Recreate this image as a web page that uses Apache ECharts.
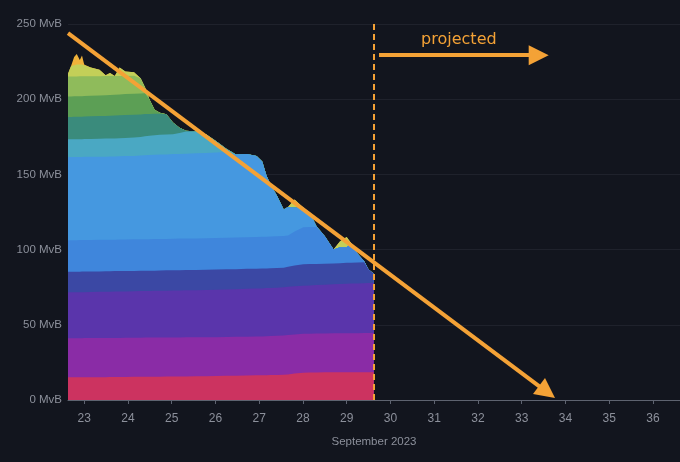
<!DOCTYPE html>
<html>
<head>
<meta charset="utf-8">
<script src="https://cdn.jsdelivr.net/npm/echarts@6/dist/echarts.min.js"></script>
<style>
html,body{margin:0;padding:0;background:#12151e;}
#chart{width:680px;height:462px;}
</style>
</head>
<body>
<div id="chart"></div>
<script>
// ---- data ----
const days = [22.63,22.70,22.77,22.83,22.90,22.95,23.00,23.15,23.35,23.49,
  23.59,23.70,23.81,23.94,24.14,24.29,24.39,24.49,24.61,24.73,
  24.88,25.03,25.18,25.33,25.56,25.79,26.02,26.25,26.47,26.72,
  26.94,27.07,27.17,27.26,27.41,27.56,27.66,27.81,28.01,28.16,
  28.31,28.50,28.70,28.85,29.00,29.10,29.25,29.40,29.50,29.62];

// total mempool size (top edge of the stack), MvB
const totalMvB = [217,222,228,230,226,229,223,221,219.5,216,
  217.5,215.5,221,218.5,218,214,208,200,193,191,
  190,184.5,181,179,178.5,176.5,172,167,163.3,163.5,
  162.2,158.5,149,143.3,135.6,126.7,128.4,133.3,127.8,124.4,
  115.6,108.9,100,105.6,108.4,104.4,97.3,92.2,86.7,84];

// cumulative upper boundary of each fee band (bottom band first), MvB
const bandTop1 = [15.1,15.1,15.1,15.1,15.1,15.1,15.1,15.2,15.2,15.2,15.3,15.3,15.3,15.3,15.4,15.4,15.4,15.5,15.5,15.5,15.6,15.6,15.7,15.7,15.8,15.8,16.0,16.1,16.2,16.3,16.4,16.5,16.5,16.6,16.7,16.8,17.0,17.6,18.2,18.3,18.3,18.4,18.4,18.4,18.4,18.5,18.5,18.5,18.5,18.5];
const bandTop2 = [41.1,41.1,41.1,41.1,41.1,41.1,41.2,41.2,41.2,41.3,41.3,41.3,41.3,41.4,41.4,41.4,41.5,41.5,41.5,41.5,41.6,41.6,41.6,41.7,41.7,41.7,41.8,41.9,42.0,42.1,42.2,42.3,42.4,42.5,42.7,42.9,43.2,43.6,44.0,44.1,44.2,44.2,44.3,44.3,44.4,44.4,44.4,44.5,44.5,44.5];
const bandTop3 = [71.6,71.6,71.6,71.6,71.7,71.7,71.7,71.8,71.9,72.0,72.0,72.1,72.2,72.2,72.3,72.4,72.4,72.5,72.6,72.6,72.7,72.8,72.8,72.9,73.0,73.1,73.3,73.5,73.7,73.9,74.1,74.2,74.4,74.5,74.7,75.0,75.3,75.6,76.0,76.2,76.4,76.7,76.9,77.1,77.3,77.4,77.5,77.7,77.8,77.8];
const bandTop4 = [85.3,85.3,85.3,85.3,85.3,85.4,85.4,85.5,85.5,85.6,85.6,85.7,85.7,85.8,85.8,85.9,85.9,86.0,86.0,86.1,86.2,86.3,86.3,86.4,86.5,86.6,86.7,86.9,87.0,87.2,87.3,87.4,87.5,87.6,87.8,88.0,88.6,89.5,90.3,90.4,90.5,90.6,90.8,91.0,91.2,91.3,91.5,91.6,91.7,91.8];
const bandTop5 = [106.2,106.2,106.2,106.2,106.3,106.3,106.3,106.4,106.5,106.5,106.6,106.6,106.7,106.7,106.8,106.8,106.9,106.9,107.0,107.0,107.1,107.2,107.3,107.3,107.4,107.5,107.7,107.9,108.0,108.2,108.3,108.5,108.6,108.7,108.9,109.1,109.4,112.0,114.9,115.0,115.0,115.1,115.1,101.5,101.5,115.3,115.3,115.4,115.5,115.5];
const bandTop6 = [161.5,161.5,161.5,161.6,161.6,161.6,161.7,161.7,161.8,161.8,161.9,161.9,162.0,162.2,162.3,162.5,162.7,162.9,163.0,163.2,163.3,163.5,163.6,163.8,164.0,164.3,164.6,164.9,165.0,165.2,165.3,165.4,165.5,165.5,165.5,165.5,165.5,128.0,165.5,165.5,165.5,165.5,165.5,101.5,101.5,165.5,165.5,165.5,165.5,165.5];
const bandTop7 = [173.3,173.3,173.3,173.4,173.4,173.4,173.5,173.6,173.7,173.8,173.8,173.9,174.0,174.2,174.5,174.9,175.3,175.7,176.0,176.3,176.5,176.7,177.5,178.5,179.5,179.5,179.5,179.5,179.5,179.5,179.5,179.5,179.5,179.5,179.5,179.5,179.5,128.0,179.5,179.5,179.5,179.5,179.5,101.5,101.5,179.5,179.5,179.5,179.5,179.5];
const bandTop8 = [188.2,188.2,188.3,188.3,188.4,188.4,188.5,188.6,188.8,188.9,189.0,189.1,189.3,189.5,189.7,189.9,190.1,190.2,190.3,190.4,190.5,190.6,190.7,190.8,190.8,190.8,190.8,190.8,190.8,190.8,190.8,190.8,190.8,190.8,190.8,190.8,190.8,128.0,190.8,190.8,190.8,190.8,190.8,101.5,101.5,190.8,190.8,190.8,190.8,190.8];
const bandTop9 = [201.8,201.8,201.9,201.9,202.0,202.0,202.1,202.3,202.5,202.6,202.8,203.0,203.2,203.4,203.6,203.8,204.0,204.0,204.0,204.0,204.0,204.0,204.0,204.0,204.0,204.0,204.0,204.0,204.0,204.0,204.0,204.0,204.0,204.0,204.0,204.0,204.0,128.0,204.0,204.0,204.0,204.0,204.0,101.5,101.5,204.0,204.0,204.0,204.0,204.0];
const bandTop10 = [215.1,215.1,215.1,215.1,215.2,215.2,215.2,215.3,215.3,215.4,215.4,215.4,215.5,215.5,215.6,215.6,215.6,215.6,215.6,215.6,215.6,215.6,215.6,215.6,215.6,215.6,215.6,215.6,215.6,215.6,215.6,215.6,215.6,215.6,215.6,215.6,215.6,128.0,215.6,215.6,215.6,215.6,215.6,101.5,101.5,215.6,215.6,215.6,215.6,215.6];
const bandTop11 = [240,222,222.5,223,223,223,222.5,240,240,240,240,240,240,240,240,240,240,240,240,240,240,240,240,240,240,240,240,240,240,240,240,240,240,240,240,240,240,240,240,240,240,240,240,240,240,240,240,240,240,240];

const xTickDays = [23,24,25,26,27,28,29,30,31,32,33,34,35,36];
const nowDay = 29.62;
const trendStart = [22.63, 243.9];
const trendEnd = [33.58, 5.3];
const projStart = [29.74, 229.3];
const projEnd = [33.39, 229.3];
const projLabel = 'projected';
const xAxisName = 'September 2023';

const bandColors = ['#cc3360','#8a2ca6','#5a35ab','#3b48a4','#3f86dc','#4598e0','#4aa8c3','#3a8b7c','#5c9f55','#8fbb5b','#c3cf58','#f0b23a'];

// ---- cumulative tops of each band (clipped to the total, kept monotone) ----
const bounds = [bandTop1,bandTop2,bandTop3,bandTop4,bandTop5,bandTop6,bandTop7,bandTop8,bandTop9,bandTop10,bandTop11];
const cumTops = bandColors.map(() => []);
for (let j = 0; j < days.length; j++) {
  let prev = 0;
  for (let k = 0; k < bounds.length; k++) {
    const c = Math.max(prev, Math.min(bounds[k][j], totalMvB[j]));
    cumTops[k].push([days[j], c]);
    prev = c;
  }
  cumTops[bounds.length].push([days[j], totalMvB[j]]);
}

const orange = '#f4a236';
// draw top band first; each lower band painted over it
const series = [];
for (let k = cumTops.length - 1; k >= 0; k--) {
  series.push({
    type: 'line', data: cumTops[k], symbol: 'none', silent: true, z: 2,
    lineStyle: {width: 0}, areaStyle: {color: bandColors[k], opacity: 1, origin: 'start'},
    itemStyle: {color: bandColors[k]}
  });
}
series.push({
  type: 'line', data: [], silent: true, z: 5,
  markLine: {
    silent: true, animation: false, precision: 4,
    symbol: ['none', 'none'],
    label: {show: false},
    data: [
      [{coord: [nowDay, 250], lineStyle: {color: orange, width: 2, type: [6, 4]}},
       {coord: [nowDay, 0]}],
      [{coord: trendStart, lineStyle: {color: orange, width: 4, type: 'solid'}},
       {coord: trendEnd, symbol: 'triangle', symbolSize: [20, 20]}],
      [{coord: projStart, lineStyle: {color: orange, width: 4, type: 'solid'},
        label: {show: true, formatter: projLabel, position: 'middle', distance: 7, color: orange,
          fontSize: 16, fontFamily: "'Comic Sans MS','DejaVu Sans',sans-serif"}},
       {coord: projEnd, symbol: 'triangle', symbolSize: [20, 20]}]
    ]
  }
});

const chart = echarts.init(document.getElementById('chart'), null, {renderer: 'canvas'});
chart.setOption({
  backgroundColor: '#12151e',
  animation: false,
  grid: {left: 68, right: 0, top: 24, bottom: 62},
  xAxis: {
    type: 'value', min: 22.63, max: 36.62,
    name: xAxisName, nameLocation: 'middle', nameGap: 36,
    nameTextStyle: {color: '#8c909b', fontSize: 11.5, fontFamily: 'Liberation Sans'},
    axisLine: {show: true, lineStyle: {color: '#5e6370', width: 1}},
    axisTick: {show: true, customValues: xTickDays, length: 4, lineStyle: {color: '#5e6370'}},
    axisLabel: {customValues: xTickDays, color: '#8c909b', fontSize: 12, margin: 13, fontFamily: 'Liberation Sans'},
    splitLine: {show: false}
  },
  yAxis: {
    type: 'value', min: 0, max: 250, interval: 50,
    axisLine: {show: false}, axisTick: {show: false},
    axisLabel: {formatter: '{value} MvB', color: '#8c909b', fontSize: 11.5, margin: 6, fontFamily: 'Liberation Sans'},
    splitLine: {show: true, lineStyle: {color: '#1f222c', width: 1}}
  },
  series: series
});
</script>
</body>
</html>
